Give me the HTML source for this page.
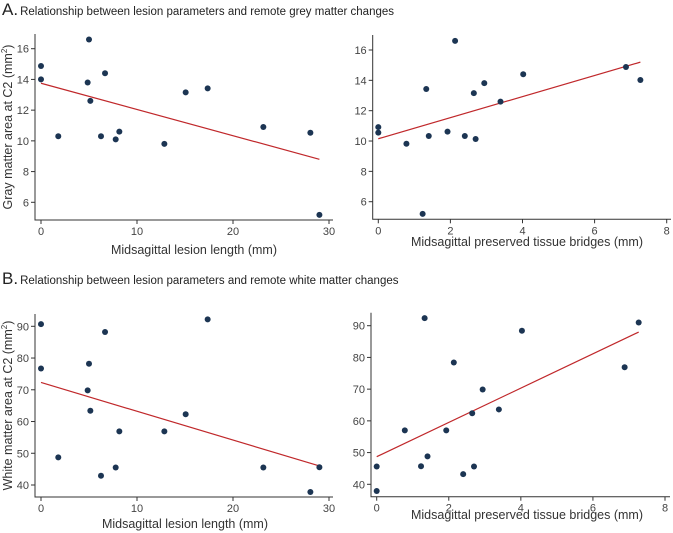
<!DOCTYPE html>
<html><head><meta charset="utf-8"><style>
body{margin:0;background:#fff;width:673px;height:533px;overflow:hidden}
svg{display:block;font-family:"Liberation Sans","DejaVu Sans",sans-serif}
</style></head><body>
<svg id="chart" width="673" height="533" viewBox="0 0 673 533">
<text x="2" y="15" font-size="17" fill="#222">A.<tspan font-size="11.5" dx="2">Relationship between lesion parameters and remote grey matter changes</tspan></text>
<text x="2" y="284" font-size="17" fill="#222">B.<tspan font-size="11.5" dx="2">Relationship between lesion parameters and remote white matter changes</tspan></text>
</svg>
<script>
const lesionLength=[0,0,5.0,4.86,6.67,5.14,1.8,6.25,7.78,8.16,12.85,15.07,17.36,23.16,28.06,29.0];
const greyByLength=[14.87,14.0,16.6,13.8,14.4,12.6,10.3,10.3,10.1,10.6,9.8,13.16,13.42,10.9,10.53,5.18];
const bridges=[0,0,0.78,1.23,1.33,1.40,1.92,2.13,2.40,2.65,2.70,2.94,3.39,4.02,6.87,7.27];
const greyByBridges=[10.92,10.55,9.82,5.2,13.43,10.33,10.62,16.6,10.33,13.16,10.13,13.82,12.6,14.4,14.88,14.02];
const whiteLength=[0,0,1.8,4.86,5.0,5.14,6.25,6.67,7.78,8.16,12.85,15.07,17.36,23.16,28.06,29.0];
const whiteByLength=[90.7,76.7,48.7,69.8,78.2,63.4,42.9,88.2,45.5,56.9,56.9,62.3,92.2,45.5,37.8,45.6];
const whiteBridges=[0,0,0.78,1.23,1.33,1.41,1.93,2.14,2.40,2.65,2.70,2.94,3.39,4.03,6.88,7.27];
const whiteByBridges=[45.6,37.9,57.0,45.7,92.4,48.8,57.0,78.4,43.2,62.4,45.6,69.9,63.6,88.4,76.9,91.0];
const fitGreyLength=[[0,13.75],[29,8.8]];
const fitGreyBridges=[[0,10.15],[7.27,15.2]];
const fitWhiteLength=[[0,72.3],[29,46]];
const fitWhiteBridges=[[0,48.7],[7.27,88]];
const lengthTicks=[0,10,20,30];
const bridgeTicks=[0,2,4,6,8];
const greyTicks=[6,8,10,12,14,16];
const whiteTicks=[40,50,60,70,80,90];

const NS="http://www.w3.org/2000/svg";
const svg=document.getElementById('chart');
function mk(tag,attrs,parent){const e=document.createElementNS(NS,tag);for(const k in attrs)e.setAttribute(k,attrs[k]);(parent||svg).appendChild(e);return e;}

function panel(p){
  const g=mk('g',{});
  
  
  const sx=v=>p.x0+(v-p.xv0)*(p.x1-p.x0)/(p.xv1-p.xv0);
  const sy=v=>p.y0+(v-p.yv0)*(p.y1-p.y0)/(p.yv1-p.yv0);
  const ax=mk('path',{d:`M${p.ax},${p.top}V${p.bottom}H${p.right}`,stroke:'#333','stroke-width':1,fill:'none'},g);
  
  
  p.xt.forEach(t=>{
    const x=sx(t);
    mk('line',{x1:x,x2:x,y1:p.bottom,y2:p.bottom+4,stroke:'#333'},g);
    const tx=mk('text',{x:x,y:p.bottom+15,'font-size':11,fill:'#444','text-anchor':'middle'},g);
    tx.textContent=t;
    
    
  });
  p.yt.forEach(t=>{
    const y=sy(t);
    mk('line',{x1:p.ax-4,x2:p.ax,y1:y,y2:y,stroke:'#333'},g);
    const tx=mk('text',{x:p.ax-6,y:y+4,'font-size':11,fill:'#444','text-anchor':'end'},g);
    tx.textContent=t;
    
    
  });
  const xt=mk('text',{x:p.xtx,y:p.xty,'font-size':12.5,fill:'#333','text-anchor':'middle'},g);
  xt.textContent=p.xtitle;
  
  
  if(p.ytitle){
    const cy=(p.top+p.bottom)/2;
    const yt=mk('text',{x:0,y:0,'font-size':12.5,fill:'#333','text-anchor':'middle',transform:`translate(12,${cy}) rotate(-90)`},g);
    yt.innerHTML=p.ytitle+' (mm<tspan font-size="8" dy="-5">2</tspan><tspan dy="5">)</tspan>';
    
    
  }
  const ln=mk('line',{x1:sx(p.fit[0][0]),y1:sy(p.fit[0][1]),x2:sx(p.fit[1][0]),y2:sy(p.fit[1][1]),stroke:'#c0282b','stroke-width':1.2},g);
  
  
  p.xs.forEach((v,i)=>{
    const c=mk('circle',{cx:sx(v),cy:sy(p.ys[i]),r:3,fill:'#1c3553'},g);
    
    
  });
}
panel({name:'grey-vs-length',xs:lesionLength,ys:greyByLength,fit:fitGreyLength,xt:lengthTicks,yt:greyTicks,
 x0:41,x1:329,xv0:0,xv1:30,y0:48.7,y1:202.3,yv0:16,yv1:6,ax:35,top:34,bottom:220,right:333,
 xtitle:'Midsagittal lesion length (mm)',xtx:194,xty:254,ytitle:'Gray matter area at C2'});
panel({name:'grey-vs-bridges',xs:bridges,ys:greyByBridges,fit:fitGreyBridges,xt:bridgeTicks,yt:greyTicks,
 x0:378.3,x1:666.7,xv0:0,xv1:8,y0:50,y1:201.7,yv0:16,yv1:6,ax:372.7,top:35,bottom:219.3,right:671,
 xtitle:'Midsagittal preserved tissue bridges (mm)',xtx:527,xty:246});
panel({name:'white-vs-length',xs:whiteLength,ys:whiteByLength,fit:fitWhiteLength,xt:lengthTicks,yt:whiteTicks,
 x0:41,x1:329,xv0:0,xv1:30,y0:326.3,y1:485,yv0:90,yv1:40,ax:35,top:314,bottom:497,right:333,
 xtitle:'Midsagittal lesion length (mm)',xtx:185,xty:528,ytitle:'White matter area at C2'});
panel({name:'white-vs-bridges',xs:whiteBridges,ys:whiteByBridges,fit:fitWhiteBridges,xt:bridgeTicks,yt:whiteTicks,
 x0:376.7,x1:665,xv0:0,xv1:8,y0:325.7,y1:484.3,yv0:90,yv1:40,ax:371,top:312.7,bottom:496.7,right:670,
 xtitle:'Midsagittal preserved tissue bridges (mm)',xtx:527,xty:519});
</script>
</body></html>
